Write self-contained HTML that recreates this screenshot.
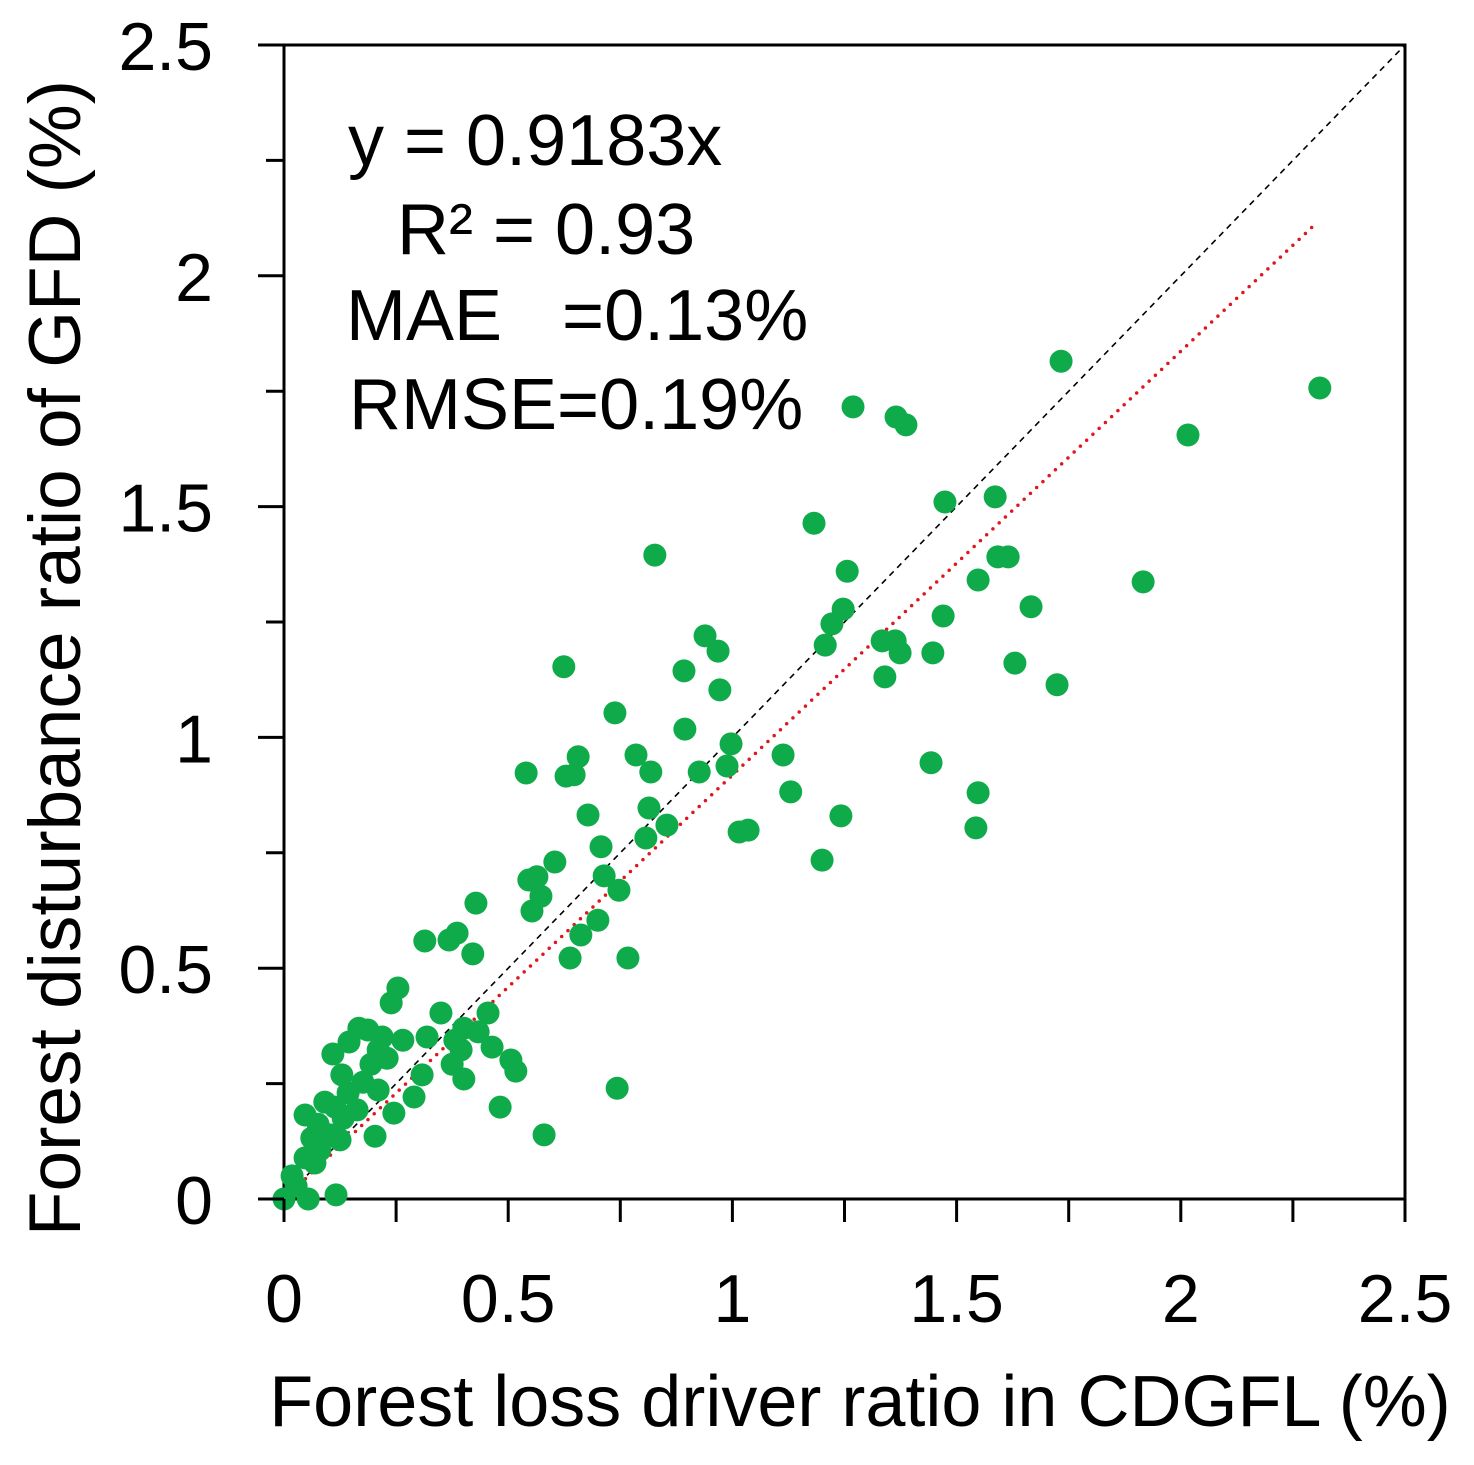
<!DOCTYPE html>
<html><head><meta charset="utf-8"><style>
html,body{margin:0;padding:0;background:#fff;}
svg text{font-family:"Liberation Sans",sans-serif;fill:#000;}
</style></head><body>
<svg id="chart" width="1474" height="1460" xmlns="http://www.w3.org/2000/svg">
<g id="frame"></g>
<g id="lines"></g>
<g id="points"></g>
<g id="ticks"></g>
<g font-size="72">
<text x="348" y="165">y = 0.9183x</text>
<text x="397" y="254">R² = 0.93</text>
<text x="346" y="340" xml:space="preserve">MAE   =0.13%</text>
<text x="349" y="429">RMSE=0.19%</text>
</g>
<text x="860" y="1426" font-size="72" text-anchor="middle">Forest loss driver ratio in CDGFL (%)</text>
<text transform="translate(80,658) rotate(-90)" font-size="73" text-anchor="middle">Forest disturbance ratio of GFD (%)</text>
</svg>
<script>
const xs=[2.31,1.733,2.016,1.269,1.365,1.387,1.474,1.586,1.182,0.827,1.916,1.548,1.592,1.615,1.256,1.666,1.247,1.47,1.222,1.207,1.334,1.363,1.374,1.447,1.34,1.63,1.724,0.624,0.939,0.968,0.972,0.892,0.738,0.894,0.997,0.988,0.926,1.113,1.13,0.785,0.818,0.656,0.629,0.647,0.54,1.443,1.548,1.543,0.814,0.854,0.678,0.807,1.015,1.035,1.242,1.2,0.707,0.604,0.714,0.747,0.7,0.662,0.546,0.564,0.573,0.553,0.767,0.638,0.743,0.58,0.428,0.386,0.368,0.314,0.421,0.254,0.239,0.35,0.455,0.401,0.433,0.381,0.395,0.375,0.401,0.464,0.506,0.517,0.482,0.319,0.308,0.29,0.245,0.203,0.167,0.187,0.219,0.265,0.21,0.145,0.109,0.194,0.23,0.129,0.176,0.21,0.143,0.091,0.114,0.163,0.047,0.076,0.132,0.103,0.062,0.125,0.08,0.047,0.069,0.018,0,0.054,0.116,0.027];
const ys=[1.757,1.815,1.655,1.716,1.694,1.677,1.51,1.521,1.464,1.395,1.337,1.341,1.391,1.391,1.36,1.283,1.278,1.263,1.246,1.2,1.209,1.209,1.183,1.183,1.131,1.161,1.114,1.153,1.22,1.187,1.103,1.144,1.053,1.018,0.986,0.938,0.925,0.962,0.882,0.962,0.925,0.958,0.916,0.919,0.923,0.945,0.88,0.804,0.847,0.81,0.832,0.782,0.795,0.799,0.83,0.734,0.763,0.73,0.7,0.669,0.604,0.572,0.691,0.698,0.656,0.624,0.522,0.522,0.24,0.139,0.641,0.576,0.561,0.559,0.531,0.457,0.425,0.403,0.403,0.37,0.362,0.344,0.323,0.292,0.26,0.329,0.301,0.277,0.199,0.351,0.269,0.221,0.186,0.136,0.37,0.366,0.351,0.344,0.323,0.34,0.314,0.292,0.305,0.269,0.253,0.236,0.23,0.21,0.199,0.193,0.182,0.162,0.175,0.139,0.132,0.128,0.106,0.089,0.078,0.05,0,0,0.009,0.028];
const tickLabels=["0","0.5","1","1.5","2","2.5"];
const tickValues=[0,0.5,1,1.5,2,2.5];
const slope=0.9183;
const fitRange=[0.02,2.3];
const NS="http://www.w3.org/2000/svg";
const X=v=>284+v*448.4, Y=v=>1199-v*461.6;
function mk(parent,tag,attrs){const e=document.createElementNS(NS,tag);for(const k in attrs)e.setAttribute(k,attrs[k]);document.getElementById(parent).appendChild(e);return e;}
let e;
e=mk('frame','rect',{x:X(0),y:Y(2.5),width:X(2.5)-X(0),height:Y(0)-Y(2.5),fill:'none',stroke:'#000','stroke-width':3});

e=mk('lines','line',{x1:X(0),y1:Y(0),x2:X(2.5),y2:Y(2.5),stroke:'#000','stroke-width':1.6,'stroke-dasharray':'6,5'});

xs.forEach((x,i)=>{const c=mk('points','circle',{cx:X(x),cy:Y(ys[i]),r:11.5,fill:'#0fab4b'});

});
e=mk('lines','line',{x1:X(fitRange[0]),y1:Y(fitRange[0]*slope),x2:X(fitRange[1]),y2:Y(fitRange[1]*slope),stroke:'#e0161e','stroke-width':3.5,'stroke-dasharray':'0,8.6','stroke-linecap':'round'});
document.getElementById('lines').appendChild(e);

for(let v=0;v<=2.5001;v+=0.25){
 const major=Math.abs(v*2-Math.round(v*2))<1e-6;
 e=mk('ticks','line',{x1:X(v),y1:Y(0),x2:X(v),y2:Y(0)+23,stroke:'#000','stroke-width':3});
 
 e=mk('ticks','line',{x1:X(0)-(major?26:18),y1:Y(v),x2:X(0),y2:Y(v),stroke:'#000','stroke-width':3});
 
}
tickValues.forEach((v,i)=>{
 const t=mk('ticks','text',{x:X(v),y:1322,'font-size':68,'text-anchor':'middle'});t.textContent=tickLabels[i];
 
 const u=mk('ticks','text',{x:213,y:Y(v)+25,'font-size':68,'text-anchor':'end'});u.textContent=tickLabels[i];
 
});
</script>
</body></html>
